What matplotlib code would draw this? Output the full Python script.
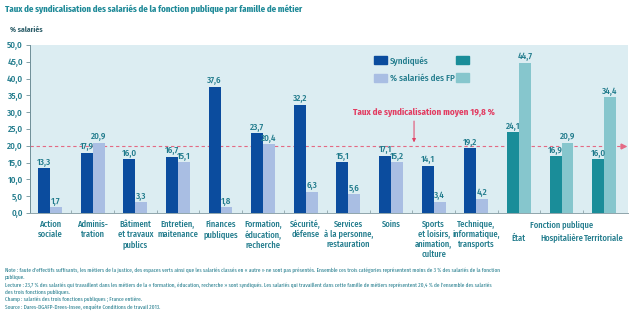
import matplotlib
matplotlib.use("Agg")
import matplotlib.pyplot as plt
from matplotlib import font_manager
from matplotlib.patches import Patch
from matplotlib.ticker import FuncFormatter, FixedLocator

# --- data ---------------------------------------------------------------
categories = [
    "Action\nsociale", "Adminis-\ntration", "Bâtiment\net travaux\npublics",
    "Entretien,\nmaitenance", "Finances\npubliques", "Formation,\néducation,\nrecherche",
    "Sécurité,\ndéfense", "Services\nà la personne,\nrestauration", "Soins",
    "Sports\net loisirs,\nanimation,\nculture", "Technique,\ninformatique,\ntransports",
    "État", "Hospitalière", "Territoriale",
]
syndiques = [13.3, 17.9, 16.0, 16.7, 37.6, 23.7, 32.2, 15.1, 17.1, 14.1, 19.2, 24.1, 16.9, 16.0]
part_fp = [1.7, 20.9, 3.3, 15.1, 1.8, 20.4, 6.3, 5.6, 15.2, 3.4, 4.2, 44.7, 20.9, 34.4]
n_metiers = 11
taux_moyen = 19.8
y_ticks = [0, 5, 10, 15, 20, 25, 30, 35, 40, 45, 50]

# --- fonts --------------------------------------------------------------
installed = {f.name for f in font_manager.fontManager.ttflist}

def pick(*families):
    for fam in families:
        if fam in installed:
            return fam
    return "DejaVu Sans"

COND = pick("Fira Sans Extra Condensed", "Asap Condensed", "Roboto Condensed",
            "Archivo Narrow", "PT Sans Narrow", "Liberation Sans Narrow", "Liberation Sans")
LABEL = pick("Fira Sans Condensed", "Asap Condensed", "Roboto Condensed", "Fira Sans", "Roboto")

DARK_BLUE = "#0b4c9e"
LIGHT_BLUE = "#a9bee3"
TEAL = "#1a8d99"
LIGHT_TEAL = "#86c6cd"
BG = "#dcedf2"
TXT = "#1f7a8b"
RED = "#e23d62"
FS = 6.5
FS_CAT = 6.1

W, H = 640, 322
fig = plt.figure(figsize=(W / 100, H / 100), dpi=100)
fig.patch.set_facecolor("white")

def fx(px):
    return px / W

def fy(py):
    return 1 - py / H

ax = fig.add_axes([fx(30), fy(213), fx(598), (213 - 45) / H])
ax.set_facecolor(BG)

x = list(range(len(categories)))
bw = 0.28
c1 = [DARK_BLUE] * n_metiers + [TEAL] * (len(x) - n_metiers)
c2 = [LIGHT_BLUE] * n_metiers + [LIGHT_TEAL] * (len(x) - n_metiers)
b1 = ax.bar([i - bw / 2 for i in x], syndiques, width=bw, color=c1, zorder=3)
b2 = ax.bar([i + bw / 2 for i in x], part_fp, width=bw, color=c2, zorder=3)

fmt = lambda v: f"{v:.1f}".replace(".", ",")
for bars, vals in ((b1, syndiques), (b2, part_fp)):
    for r, v in zip(bars, vals):
        ax.annotate(fmt(v), (r.get_x() + r.get_width() / 2, v), xytext=(0, 1),
                    textcoords="offset points", ha="center", va="bottom",
                    fontsize=FS, color=TXT, fontfamily=LABEL, fontweight="medium", zorder=4)

ax.set_xlim(-0.47, len(x) - 1 + 0.56)
ax.set_ylim(0, 50)

# average line with arrow head at the right end
ax.axhline(taux_moyen, color="#e46a84", lw=0.8, ls=(0, (3, 2.5)), zorder=2)
ax.plot([len(x) - 1 + 0.45], [taux_moyen], marker=">", color="#e46a84", ms=3.5, zorder=2)
ax.annotate("", xy=(8.54, taux_moyen + 0.4), xytext=(8.54, 28.2),
            arrowprops=dict(arrowstyle="-|>", color=RED, lw=0.7, mutation_scale=5))
ax.text(8.78, 30.0, f"Taux de syndicalisation moyen {fmt(taux_moyen)} %", ha="center",
        va="center", fontsize=FS, color=RED, fontfamily=LABEL, fontweight="bold")

# axes
ax.yaxis.set_major_locator(FixedLocator(y_ticks))
ax.yaxis.set_major_formatter(FuncFormatter(lambda v, p: fmt(v)))
ax.tick_params(axis="y", labelsize=FS, labelcolor=TXT, color="#6f8f98", length=3, width=0.6, pad=2)
for lab in ax.get_yticklabels():
    lab.set_fontfamily(LABEL)
    lab.set_fontweight("medium")

# job families as tick labels; the three public services sit under a shared heading
ax.set_xticks(x[:n_metiers])
ax.set_xticklabels(categories[:n_metiers], fontsize=FS_CAT, color=TXT, fontfamily=LABEL,
                   fontweight="medium", linespacing=1.15, va="top")
ax.tick_params(axis="x", length=0, pad=5)
ax.set_xticks([i + 0.5 for i in x[:-1]], minor=True)
ax.tick_params(axis="x", which="minor", length=2, color="#8fa5ab", width=0.6, direction="in")
xt = ax.get_xaxis_transform()
ax.text(12, -0.04, "Fonction publique", transform=xt, ha="center", va="top",
        fontsize=FS_CAT, color=TXT, fontfamily=LABEL, fontweight="medium")
for i in x[n_metiers:]:
    ax.text(i, -0.125, categories[i], transform=xt, ha="center", va="top",
            fontsize=FS_CAT, color=TXT, fontfamily=LABEL, fontweight="medium")

for s in ("top", "right"):
    ax.spines[s].set_visible(False)
ax.spines["left"].set_color("#6f8f98")
ax.spines["left"].set_linewidth(0.7)
ax.spines["bottom"].set_color("#8fa5ab")
ax.spines["bottom"].set_linewidth(0.7)

# legend: two columns (métiers / fonctions publiques)
handles = [Patch(color=DARK_BLUE), Patch(color=LIGHT_BLUE), Patch(color=TEAL), Patch(color=LIGHT_TEAL)]
labels = ["Syndiqués", "% salariés des FP", "", ""]
fig.legend(handles, labels, ncol=2, loc="upper left", bbox_to_anchor=(fx(374), fy(56)),
           frameon=False, prop={"family": LABEL, "weight": "medium", "size": FS},
           handlelength=1.45, handleheight=1.0, handletextpad=0.35, columnspacing=0.1,
           labelspacing=0.9, borderpad=0, borderaxespad=0, labelcolor=TXT)

# titles
fig.text(fx(5), fy(9), "Taux de syndicalisation des salariés de la fonction publique par famille de métier",
         fontsize=6.9, fontfamily=COND, fontweight="bold", color="#1f8a98", va="center")
fig.text(fx(10), fy(30), "% salariés", fontsize=5.5, color="#2e5f6a", fontfamily=LABEL,
         fontweight="bold", va="center")

notes = [
    "Note : faute d'effectifs suffisants, les métiers de la justice, des espaces verts ainsi que les salariés classés en « autre » ne sont pas présentés. Ensemble ces trois catégories représentent moins de 3 % des salariés de la fonction",
    "publique.",
    "Lecture : 23,7 % des salariés qui travaillent dans les métiers de la « formation, éducation, recherche » sont syndiqués. Les salariés qui travaillent dans cette famille de métiers représentent 20,4 % de l'ensemble des salariés",
    "des trois fonctions publiques.",
    "Champ : salariés des trois fonctions publiques ; France entière.",
    "Source : Dares-DGAFP-Drees-Insee, enquête Conditions de travail 2013.",
]
for k, line in enumerate(notes):
    fig.text(fx(5), fy(270 + k * 7.4), line, fontsize=4.2, fontfamily=COND, color=TXT, va="center")

fig.savefig("out.png", dpi=100)
